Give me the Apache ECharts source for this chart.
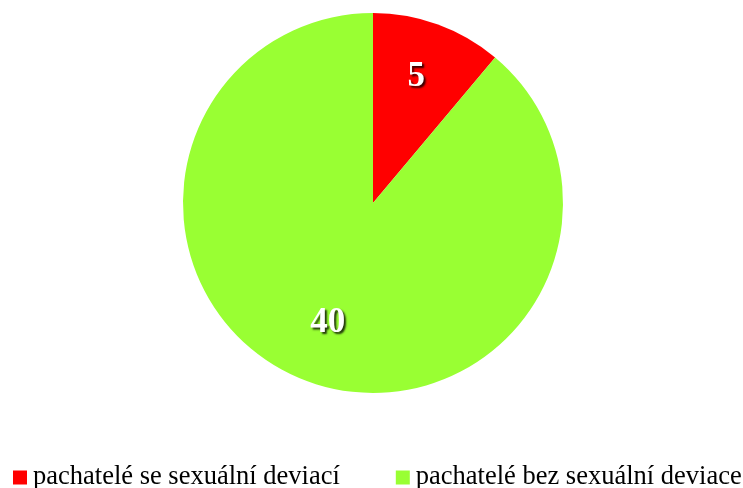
<!DOCTYPE html>
<html>
<head>
<meta charset="utf-8">
<script src="https://cdn.jsdelivr.net/npm/echarts@6/dist/echarts.min.js"></script>
<style>
  html, body { margin: 0; padding: 0; background: #fff; }
  #main { width: 743px; height: 488px; }
</style>
</head>
<body>
<div id="main"></div>
<script>
// data
var categories = ['pachatelé se sexuální deviací', 'pachatelé bez sexuální deviace']
var values = [5, 40]
var colors = ['#FF0000', '#99FF33']

var chart = echarts.init(document.getElementById('main'))

var pieData = categories.map(function(name, i) {
  return { name: name, value: values[i], itemStyle: { color: colors[i] } }
})

// small nudges so the value labels sit where the original ones do
var labelOffsets = [[-3, 1], [1, -7]]

var option = {
  animation: false,
  legend: {
    bottom: -8,
    left: 8,
    width: 800,
    itemWidth: 14,
    itemHeight: 14,
    itemGap: 56,
    icon: 'rect',
    textStyle: {
      fontFamily: 'Liberation Serif',
      fontSize: 26.5,
      color: '#000',
      padding: [0, 0, 0, 1]
    },
    data: categories
  },
  series: [
    {
      type: 'pie',
      center: [373, 203],
      radius: [0, 190],
      startAngle: 90,
      clockwise: true,
      label: { show: false },
      labelLine: { show: false },
      silent: true,
      data: pieData
    },
    {
      // transparent ring only used to place the value labels further out
      type: 'pie',
      center: [373, 203],
      radius: [100, 164],
      startAngle: 90,
      clockwise: true,
      silent: true,
      legendHoverLink: false,
      itemStyle: { color: 'rgba(0,0,0,0)' },
      label: {
        show: true,
        position: 'inside',
        formatter: '{c}',
        fontFamily: 'Liberation Serif',
        fontWeight: 'bold',
        fontSize: 35,
        color: '#fff',
        textShadowColor: 'rgba(0,0,0,0.8)',
        textShadowBlur: 2,
        textShadowOffsetX: 2,
        textShadowOffsetY: 2
      },
      labelLine: { show: false },
      data: categories.map(function(name, i) {
        return { name: name + ' ', value: values[i], label: { offset: labelOffsets[i] } }
      })
    }
  ]
}

chart.setOption(option)
</script>
</body>
</html>
